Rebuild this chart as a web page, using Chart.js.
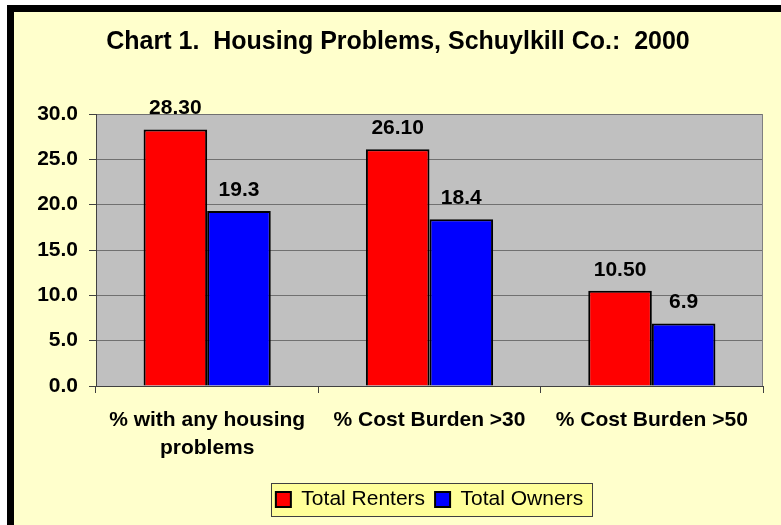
<!DOCTYPE html>
<html>
<head>
<meta charset="utf-8">
<script src="https://cdn.jsdelivr.net/npm/chart.js@4"></script>
<style>
body { margin: 0; background: #ffffff; }
</style>
</head>
<body>
<canvas id="myChart" width="781" height="525"></canvas>
<script>
// Chart data

var Categories = [["% with any housing", "problems"], "% Cost Burden >30", "% Cost Burden >50"];
var Renters = [28.3, 26.1, 10.5];
var Owners = [19.3, 18.4, 6.9];
var Decimals = [2, 1]; // how the value labels are written, per series
var YTicks = [0, 5, 10, 15, 20, 25, 30];

var FONT = "'Liberation Sans', Arial, sans-serif";

// Plugins: frame, plot background, legend box, value labels

var framePlugin = {
	id: 'frame',
	beforeDraw: function(chart) {
		var ctx = chart.ctx;
		var a = chart.chartArea;
		ctx.save();
		ctx.fillStyle = "#ffffff";
		ctx.fillRect(0, 0, chart.width, chart.height);
		ctx.fillStyle = "#000000";
		ctx.fillRect(7, 5, chart.width, chart.height);
		ctx.fillStyle = "#ffffcc";
		ctx.fillRect(14, 12, chart.width, chart.height);
		// plot area
		ctx.fillStyle = "#c0c0c0";
		ctx.fillRect(a.left, a.top, a.right - a.left, a.bottom - a.top);
		// legend box
		var lg = chart.legend;
		if (lg && lg.legendHitBoxes.length) {
			var hb = lg.legendHitBoxes;
			var l = hb[0].left - 5;
			var r = hb[hb.length - 1].left + hb[hb.length - 1].width + 9;
			var t = hb[0].top - 6;
			var b = hb[0].top + hb[0].height + 6;
			ctx.fillStyle = "#ffff99";
			ctx.fillRect(l, t, r - l, b - t);
			ctx.strokeStyle = "#404040";
			ctx.lineWidth = 1;
			ctx.strokeRect(Math.round(l) + 0.5, Math.round(t) + 0.5, Math.round(r - l), Math.round(b - t));
		}
		ctx.restore();
	},
	afterDatasetsDraw: function(chart) {
		var ctx = chart.ctx;
		var a = chart.chartArea;
		ctx.save();
		ctx.strokeStyle = "#808080";
		ctx.lineWidth = 1;
		ctx.beginPath();
		ctx.moveTo(Math.round(a.right) - 0.5, a.top);
		ctx.lineTo(Math.round(a.right) - 0.5, a.bottom);
		ctx.stroke();
		// value labels
		ctx.fillStyle = "#000000";
		ctx.font = "bold 21px " + FONT;
		ctx.textAlign = "center";
		ctx.textBaseline = "alphabetic";
		chart.data.datasets.forEach(function(ds, di) {
			var meta = chart.getDatasetMeta(di);
			meta.data.forEach(function(bar, i) {
				ctx.fillText(ds.data[i].toFixed(Decimals[di]), bar.x, bar.y - 15);
			});
		});
		ctx.restore();
	}
};

var Ctxt = document.getElementById("myChart").getContext("2d");

var ChartInst = new Chart(Ctxt, {
	type: "bar",
	data: {
		labels: Categories,
		datasets: [{
			label: "Total Renters",
			data: Renters,
			backgroundColor: "#ff0000",
			borderColor: "#000000",
			borderWidth: 2,
			categoryPercentage: 0.572,
			barPercentage: 1.0
			},
			{
			label: "Total Owners",
			data: Owners,
			backgroundColor: "#0000ff",
			borderColor: "#000000",
			borderWidth: 2,
			categoryPercentage: 0.572,
			barPercentage: 1.0
			}]
		},
	options: {
		responsive: false,
		animation: false,
		layout: {
			padding: { left: 33, right: 18, top: 12, bottom: 5 }
			},
		plugins: {
			title: {
				display: true,
				text: "Chart 1.  Housing Problems, Schuylkill Co.:  2000",
				color: "#000000",
				font: { family: FONT, size: 25, weight: "bold", lineHeight: 1.2 },
				padding: { top: 15, bottom: 57 }
				},
			legend: {
				display: true,
				position: "bottom",
				fullSize: false,
				labels: {
					color: "#000000",
					font: { family: FONT, size: 21 },
					boxWidth: 15,
					boxHeight: 15,
					padding: 10
					}
				},
			tooltip: { enabled: false }
			},
		scales: {
			x: {
				afterFit: function(s) { s.height = 93; },
				grid: {
					display: true,
					drawOnChartArea: false,
					offset: true,
					tickLength: 7,
					color: "#404040"
					},
				border: { display: true, color: "#404040", width: 1 },
				ticks: {
					color: "#000000",
					font: { family: FONT, size: 21, weight: "bold", lineHeight: 1.3 },
					autoSkip: false,
					maxRotation: 0,
					padding: 14
					}
				},
			y: {
				min: 0,
				max: 30,
				afterFit: function(s) { s.width = 96 - 33; },
				afterBuildTicks: function(s) {
					s.ticks = YTicks.map(function(v) { return { value: v }; });
					},
				grid: {
					color: "#707070",
					tickColor: "#404040",
					tickLength: 7
					},
				border: { display: true, color: "#404040", width: 1 },
				ticks: {
					color: "#000000",
					font: { family: FONT, size: 21, weight: "bold" },
					padding: 11,
					callback: function(v) { return Number(v).toFixed(1); }
					}
				}
			}
		},
	plugins: [framePlugin]
	});
</script>
</body>
</html>
